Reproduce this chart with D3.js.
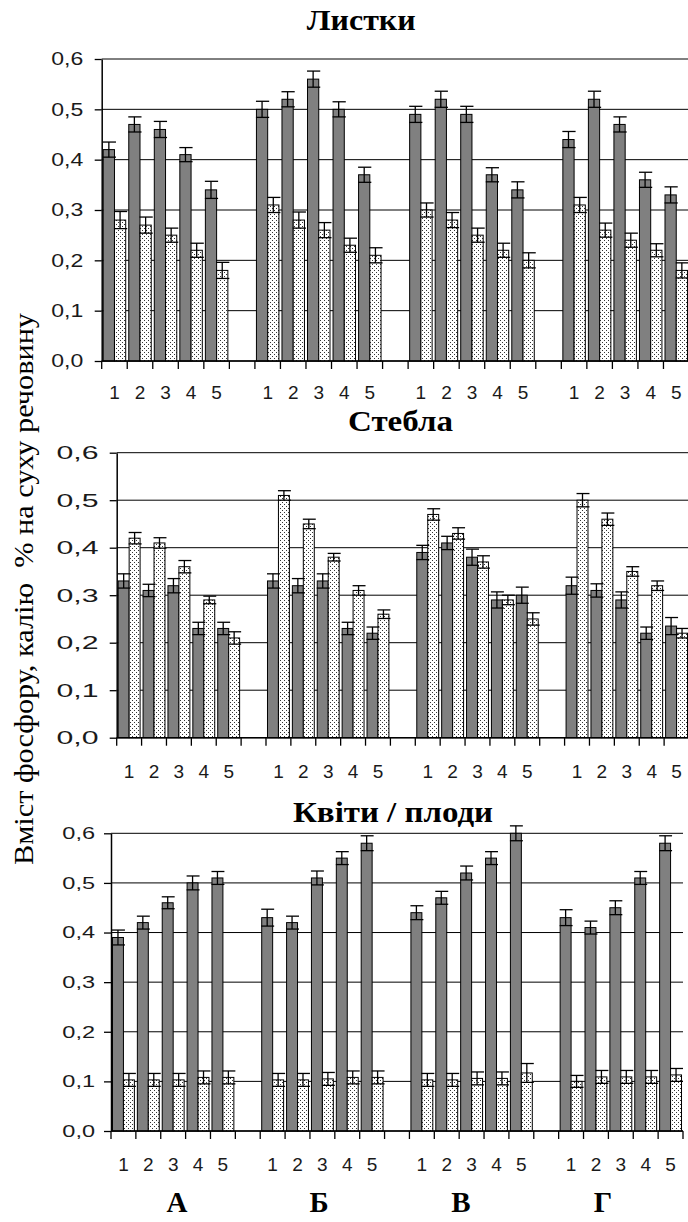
<!DOCTYPE html>
<html>
<head>
<meta charset="utf-8">
<script src="https://cdn.jsdelivr.net/npm/d3@7"></script>
<style>
  body { margin: 0; background: #fff; }
</style>
</head>
<body>
<div id="chart"></div>
<script>
// Data (4 variants x 5 dates each)
const groups = ["А", "Б", "В", "Г"];
const cats = ["1", "2", "3", "4", "5"];
const yTicks = [0, 0.1, 0.2, 0.3, 0.4, 0.5, 0.6];
const yTitle = "Вміст фосфору, калію  % на суху речовину";

const leavesDark = [0.42, 0.47, 0.46, 0.41, 0.34, 0.50, 0.52, 0.56, 0.50, 0.37, 0.49, 0.52, 0.49, 0.37, 0.34, 0.44, 0.52, 0.47, 0.36, 0.33];
const leavesDarkErr = [0.015, 0.015, 0.016, 0.014, 0.017, 0.016, 0.015, 0.016, 0.015, 0.015, 0.016, 0.016, 0.016, 0.014, 0.016, 0.016, 0.016, 0.015, 0.015, 0.016];
const leavesLight = [0.28, 0.27, 0.25, 0.22, 0.18, 0.31, 0.28, 0.26, 0.23, 0.21, 0.30, 0.28, 0.25, 0.22, 0.20, 0.31, 0.26, 0.24, 0.22, 0.18];
const leavesLightErr = [0.017, 0.016, 0.014, 0.014, 0.016, 0.015, 0.016, 0.015, 0.014, 0.015, 0.014, 0.015, 0.014, 0.014, 0.015, 0.015, 0.014, 0.014, 0.013, 0.015];

const stemsDark = [0.33, 0.31, 0.32, 0.23, 0.23, 0.33, 0.32, 0.33, 0.23, 0.22, 0.39, 0.41, 0.38, 0.29, 0.30, 0.32, 0.31, 0.29, 0.22, 0.235];
const stemsDarkErr = [0.015, 0.013, 0.015, 0.013, 0.013, 0.015, 0.015, 0.015, 0.013, 0.013, 0.015, 0.014, 0.017, 0.017, 0.017, 0.018, 0.014, 0.017, 0.013, 0.018];
const stemsLight = [0.42, 0.41, 0.36, 0.29, 0.21, 0.51, 0.45, 0.38, 0.31, 0.26, 0.47, 0.43, 0.37, 0.29, 0.25, 0.50, 0.46, 0.35, 0.32, 0.22];
const stemsLightErr = [0.012, 0.011, 0.013, 0.008, 0.013, 0.010, 0.010, 0.008, 0.010, 0.009, 0.012, 0.012, 0.013, 0.010, 0.013, 0.014, 0.013, 0.010, 0.010, 0.010];

const fruitsDark = [0.39, 0.42, 0.46, 0.50, 0.51, 0.43, 0.42, 0.51, 0.55, 0.58, 0.44, 0.47, 0.52, 0.55, 0.60, 0.43, 0.41, 0.45, 0.51, 0.58];
const fruitsDarkErr = [0.015, 0.013, 0.012, 0.014, 0.013, 0.017, 0.013, 0.014, 0.013, 0.015, 0.014, 0.013, 0.014, 0.013, 0.015, 0.016, 0.013, 0.014, 0.013, 0.015];
const fruitsLight = [0.103, 0.103, 0.103, 0.108, 0.108, 0.103, 0.103, 0.105, 0.108, 0.108, 0.103, 0.103, 0.106, 0.106, 0.117, 0.100, 0.109, 0.109, 0.109, 0.113];
const fruitsLightErr = [0.013, 0.013, 0.013, 0.013, 0.013, 0.013, 0.013, 0.013, 0.013, 0.013, 0.013, 0.013, 0.013, 0.013, 0.019, 0.012, 0.013, 0.013, 0.013, 0.013];

// Panel layout (pixels)
const panels = [
  { title: "Листки", dark: leavesDark, darkErr: leavesDarkErr, light: leavesLight, lightErr: leavesLightErr,
    x0: 101.7, x1: 689, yTop: 59, yBottom: 361,
    titleX: 306.7, titleY: 30, titleW: 109,
    yFont: 18, yLabelW: 32, yPad: 11.4, xLabelY: 399 },
  { title: "Стебла", dark: stemsDark, darkErr: stemsDarkErr, light: stemsLight, lightErr: stemsLightErr,
    x0: 116.7, x1: 689, yTop: 452.7, yBottom: 737.7,
    titleX: 348, titleY: 431, titleW: 105,
    yFont: 19, yLabelW: 42, yPad: 11.2, xLabelY: 778 },
  { title: "Квіти / плоди", dark: fruitsDark, darkErr: fruitsDarkErr, light: fruitsLight, lightErr: fruitsLightErr,
    x0: 111, x1: 683, yTop: 833.3, yBottom: 1131,
    titleX: 293, titleY: 821.7, titleW: 200,
    yFont: 16.5, yLabelW: 32.7, yPad: 9, xLabelY: 1170.7 }
];

const W = 688, H = 1222;
const fmt = v => d3.format(".1f")(v).replace(".", ",");

// Category keys: 5 per group, one empty slot between groups
const keys = [];
groups.forEach((g, gi) => {
  cats.forEach(c => keys.push(g + c));
  if (gi < groups.length - 1) keys.push(g + "_");
});

const svg = d3.select("#chart").append("svg")
  .attr("width", W)
  .attr("height", H)
  .attr("viewBox", `0 0 ${W} ${H}`);

svg.append("rect").attr("width", W).attr("height", H).attr("fill", "#fff");

// Dotted fill like the Excel pattern
const pat = svg.append("defs").append("pattern")
  .attr("id", "dots")
  .attr("width", 4).attr("height", 4)
  .attr("patternUnits", "userSpaceOnUse");
pat.append("rect").attr("width", 4).attr("height", 4).attr("fill", "#fff");
pat.append("rect").attr("x", 0).attr("y", 0).attr("width", 1).attr("height", 1).attr("fill", "#333");
pat.append("rect").attr("x", 2).attr("y", 2).attr("width", 1).attr("height", 1).attr("fill", "#333");

const drawPanel = (p) => {
  const x = d3.scaleBand().domain(keys).range([p.x0, p.x1]).padding(0);
  const y = d3.scaleLinear().domain([0, 0.6]).range([p.yBottom, p.yTop]);
  const bw = x.bandwidth();
  const barW = bw * 0.44;

  const g = svg.append("g");

  // Gridlines
  g.selectAll("line.grid")
    .data(yTicks)
    .join("line")
    .attr("class", "grid")
    .attr("x1", p.x0).attr("x2", p.x1)
    .attr("y1", d => y(d)).attr("y2", d => y(d))
    .attr("stroke", "#000")
    .attr("stroke-width", 1);

  // Bars
  const rows = [];
  groups.forEach((gr, gi) => {
    cats.forEach((c, ci) => {
      const k = gi * cats.length + ci;
      rows.push({ key: gr + c, series: "dark", v: p.dark[k], e: p.darkErr[k] });
      rows.push({ key: gr + c, series: "light", v: p.light[k], e: p.lightErr[k] });
    });
  });

  const bx = d => x(d.key) + (d.series === "dark" ? bw * 0.06 : bw * 0.5);

  g.selectAll("rect.bar")
    .data(rows)
    .join("rect")
    .attr("class", "bar")
    .attr("x", bx)
    .attr("width", barW)
    .attr("y", d => y(d.v))
    .attr("height", d => y(0) - y(d.v))
    .attr("fill", d => d.series === "dark" ? "#808080" : "url(#dots)")
    .attr("stroke", "#000")
    .attr("stroke-width", 1);

  // Error bars
  const eb = g.selectAll("g.err")
    .data(rows)
    .join("g")
    .attr("class", "err")
    .attr("stroke", "#000")
    .attr("stroke-width", 1.3);
  eb.append("line")
    .attr("x1", d => bx(d) + barW / 2).attr("x2", d => bx(d) + barW / 2)
    .attr("y1", d => y(d.v - d.e)).attr("y2", d => y(d.v + d.e));
  eb.append("line")
    .attr("x1", d => bx(d) - 0.5).attr("x2", d => bx(d) + barW + 1.5)
    .attr("y1", d => y(d.v + d.e)).attr("y2", d => y(d.v + d.e));
  eb.append("line")
    .attr("x1", d => bx(d) - 0.5).attr("x2", d => bx(d) + barW + 1.5)
    .attr("y1", d => y(d.v - d.e)).attr("y2", d => y(d.v - d.e));

  // Y axis
  const yAxis = d3.axisLeft(y)
    .tickValues(yTicks)
    .tickFormat(fmt)
    .tickSize(7)
    .tickSizeOuter(0)
    .tickPadding(p.yPad);

  const ya = g.append("g")
    .attr("transform", `translate(${p.x0},0)`)
    .call(yAxis);
  ya.select(".domain").attr("stroke", "#000").attr("stroke-width", 1.5);
  ya.selectAll(".tick line").attr("stroke", "#000").attr("stroke-width", 1.3);
  ya.selectAll(".tick text")
    .attr("fill", "#1a1a1a")
    .attr("font-family", "'Liberation Sans', Arial, sans-serif")
    .attr("font-size", p.yFont)
    .attr("textLength", p.yLabelW)
    .attr("lengthAdjust", "spacingAndGlyphs");

  // X axis: line, ticks on category boundaries, labels 1..5
  g.append("line")
    .attr("x1", p.x0).attr("x2", p.x1)
    .attr("y1", y(0)).attr("y2", y(0))
    .attr("stroke", "#000").attr("stroke-width", 1.5);

  const bounds = keys.map(k => x(k)).concat([x(keys[keys.length - 1]) + bw]);
  g.selectAll("line.xtick")
    .data(bounds)
    .join("line")
    .attr("class", "xtick")
    .attr("x1", d => d).attr("x2", d => d)
    .attr("y1", y(0)).attr("y2", y(0) + 8)
    .attr("stroke", "#000").attr("stroke-width", 1.3);

  g.selectAll("text.xlab")
    .data(keys.filter(k => !k.endsWith("_")))
    .join("text")
    .attr("class", "xlab")
    .attr("x", k => x(k) + bw / 2)
    .attr("y", p.xLabelY)
    .attr("text-anchor", "middle")
    .attr("font-family", "'Liberation Sans', Arial, sans-serif")
    .attr("font-size", 19)
    .attr("fill", "#1a1a1a")
    .text(k => k.slice(1));

  // Panel title
  g.append("text")
    .attr("x", p.titleX)
    .attr("y", p.titleY)
    .attr("font-family", "'Liberation Serif', 'Times New Roman', serif")
    .attr("font-weight", "bold")
    .attr("font-size", 29)
    .attr("textLength", p.titleW)
    .attr("lengthAdjust", "spacingAndGlyphs")
    .text(p.title);
};

panels.forEach(drawPanel);

// Shared y title
svg.append("text")
  .attr("transform", "translate(33.3,589) rotate(-90)")
  .attr("text-anchor", "middle")
  .attr("font-family", "'Liberation Serif', 'Times New Roman', serif")
  .attr("font-size", 28)
  .attr("textLength", 552)
  .attr("lengthAdjust", "spacingAndGlyphs")
  .style("white-space", "pre")
  .text(yTitle);

// Variant letters under the bottom panel
const lx = d3.scalePoint().domain(groups).range([177, 603]);
svg.selectAll("text.variant")
  .data(groups)
  .join("text")
  .attr("class", "variant")
  .attr("x", d => lx(d))
  .attr("y", 1212)
  .attr("text-anchor", "middle")
  .attr("font-family", "'Liberation Serif', 'Times New Roman', serif")
  .attr("font-weight", "bold")
  .attr("font-size", 29)
  .text(d => d);
</script>
</body>
</html>
